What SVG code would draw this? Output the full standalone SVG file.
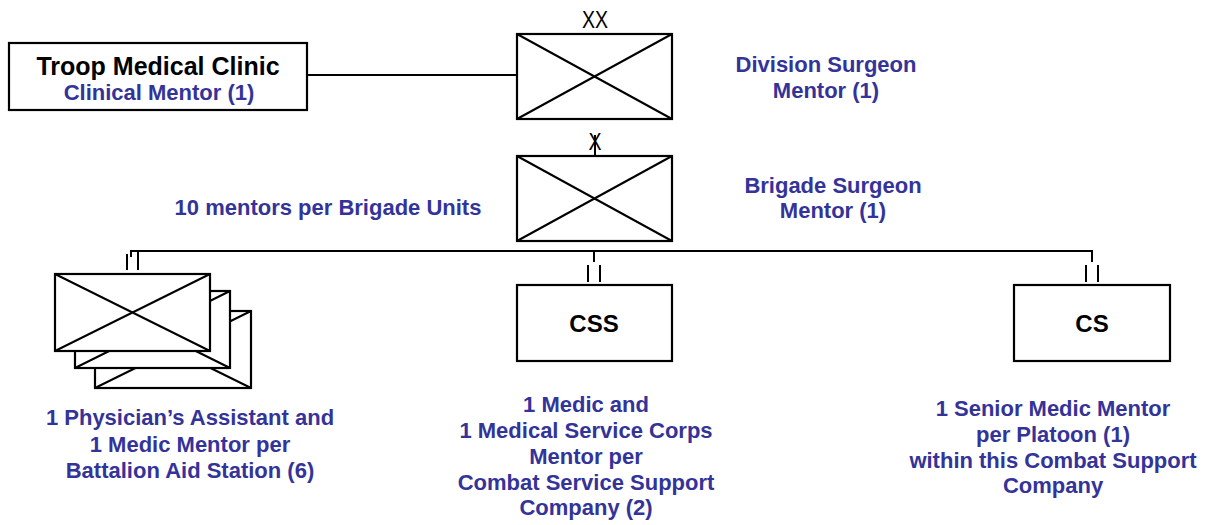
<svg xmlns="http://www.w3.org/2000/svg" width="1213" height="525" viewBox="0 0 1213 525">
<style>
.box{fill:#fff;stroke:#000;stroke-width:2.2}
.ln{stroke:#000;stroke-width:2;fill:none}
.bl{font-family:"Liberation Sans",Arial,sans-serif;font-weight:bold;font-size:22px;fill:#333399;text-anchor:middle}
.bk{font-family:"Liberation Sans",Arial,sans-serif;font-weight:bold;fill:#000;text-anchor:middle}
.ech{font-family:"Liberation Sans",Arial,sans-serif;font-size:23px;fill:#000;text-anchor:middle}
</style>
<rect width="1213" height="525" fill="#fff"/>
<g id="connectors">
<line class="ln" x1="307" y1="75" x2="517" y2="75"/>
<polyline class="ln" points="131,257 131,251 1092,251 1092,262"/>
<line class="ln" x1="594" y1="251" x2="594" y2="262"/>
<line class="ln" x1="127" y1="254" x2="127" y2="270"/>
<line class="ln" x1="138" y1="251" x2="138" y2="270"/>
<line class="ln" x1="588" y1="265" x2="588" y2="282"/>
<line class="ln" x1="600" y1="265" x2="600" y2="282"/>
<line class="ln" x1="1086" y1="265" x2="1086" y2="282"/>
<line class="ln" x1="1098" y1="265" x2="1098" y2="282"/>
<line class="ln" x1="595" y1="135" x2="595" y2="156"/>
</g>
<g id="division">
<text class="ech" transform="translate(595,28) scale(0.85,1)">XX</text>
<rect class="box" x="517" y="34" width="155" height="85"/>
<path class="ln" d="M517,34L672,119M672,34L517,119"/>
<text class="bl" x="826" y="72">Division Surgeon</text>
<text class="bl" x="826" y="98">Mentor (1)</text>
</g>
<g id="troop-medical-clinic">
<rect class="box" x="9" y="43" width="298" height="67"/>
<text class="bk" x="158" y="75" font-size="25">Troop Medical Clinic</text>
<text class="bl" x="159" y="100">Clinical Mentor (1)</text>
</g>
<g id="brigade">
<text class="ech" transform="translate(595,150) scale(0.85,1)">X</text>
<rect class="box" x="517" y="156" width="155" height="85"/>
<path class="ln" d="M517,156L672,241M672,156L517,241"/>
<text class="bl" x="833" y="193">Brigade Surgeon</text>
<text class="bl" x="833" y="218">Mentor (1)</text>
<text class="bl" x="328" y="215">10 mentors per Brigade Units</text>
</g>
<g id="battalion-aid-stations">
<rect class="box" x="95" y="311" width="156" height="77"/>
<path class="ln" d="M95,311L251,388M251,311L95,388"/>
<rect class="box" x="75" y="291" width="155" height="77"/>
<path class="ln" d="M75,291L230,368M230,291L75,368"/>
<rect class="box" x="55" y="274" width="155" height="77"/>
<path class="ln" d="M55,274L210,351M210,274L55,351"/>
<text class="bl" x="190" y="425">1 Physician’s Assistant and</text>
<text class="bl" x="190" y="452">1 Medic Mentor per</text>
<text class="bl" x="190" y="478">Battalion Aid Station (6)</text>
</g>
<g id="css">
<rect class="box" x="517" y="285" width="155" height="76"/>
<text class="bk" x="594" y="332" font-size="24">CSS</text>
<text class="bl" x="586" y="412">1 Medic and</text>
<text class="bl" x="586" y="438">1 Medical Service Corps</text>
<text class="bl" x="586" y="464">Mentor per</text>
<text class="bl" x="586" y="490">Combat Service Support</text>
<text class="bl" x="586" y="515">Company (2)</text>
</g>
<g id="cs">
<rect class="box" x="1014" y="285" width="156" height="76"/>
<text class="bk" x="1092" y="332" font-size="24">CS</text>
<text class="bl" x="1053" y="416">1 Senior Medic Mentor</text>
<text class="bl" x="1053" y="442">per Platoon (1)</text>
<text class="bl" x="1053" y="468">within this Combat Support</text>
<text class="bl" x="1053" y="493">Company</text>
</g>
</svg>
